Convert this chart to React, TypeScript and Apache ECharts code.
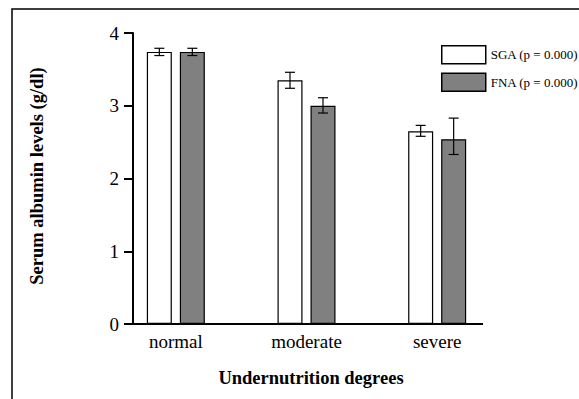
import React, { useEffect, useRef } from "react";
import * as echarts from "echarts";

const categories = ["normal", "moderate", "severe"];
const sgaValues = [3.74, 3.35, 2.65];
const fnaValues = [3.74, 3.0, 2.54];
const sgaErrLow = [3.69, 3.24, 2.58];
const sgaErrHigh = [3.79, 3.46, 2.73];
const fnaErrLow = [3.69, 2.9, 2.33];
const fnaErrHigh = [3.79, 3.11, 2.83];
const yTicks = [0, 1, 2, 3, 4];
const seriesNames = ["SGA (p = 0.000)", "FNA (p = 0.000)"];

const FONT = "'Liberation Serif', 'Times New Roman', serif";
const BAR_W = 25;
const BAR_GAP = 8;

function errSeries(low: number[], high: number[], offset: number) {
  return {
    type: "custom",
    silent: true,
    z: 5,
    encode: { x: 0, y: [1, 2] },
    data: categories.map((_, i) => [i, low[i], high[i]]),
    renderItem: (params: any, api: any) => {
      const lo = api.coord([api.value(0), api.value(1)]);
      const hi = api.coord([api.value(0), api.value(2)]);
      const x = lo[0] + offset;
      const cap = 5;
      const style = { stroke: "#000", lineWidth: 1.2 };
      return {
        type: "group",
        children: [
          { type: "line", shape: { x1: x, y1: lo[1], x2: x, y2: hi[1] }, style },
          { type: "line", shape: { x1: x - cap, y1: lo[1], x2: x + cap, y2: lo[1] }, style },
          { type: "line", shape: { x1: x - cap, y1: hi[1], x2: x + cap, y2: hi[1] }, style },
        ],
      };
    },
  };
}

export default function App() {
  const ref = useRef<HTMLDivElement>(null);
  useEffect(() => {
    if (!ref.current) return;
    const chart = echarts.init(ref.current, null, { renderer: "svg" });
    const off = BAR_GAP / 2 + BAR_W / 2;
    chart.setOption({
      animation: false,
      backgroundColor: "#fff",
      textStyle: { fontFamily: FONT, color: "#000" },
      grid: { left: 110.5, right: 76.5, top: 33, bottom: 75 },
      legend: {
        orient: "vertical",
        left: 436,
        top: 40,
        itemWidth: 44,
        itemHeight: 18,
        itemGap: 8,
        icon: "rect",
        selectedMode: false,
        data: seriesNames,
        itemStyle: { borderWidth: 1.5 },
        textStyle: { fontFamily: FONT, fontSize: 13, color: "#000" },
      },
      xAxis: {
        type: "category",
        data: categories,
        axisLine: { show: false },
        axisTick: { show: false },
        axisLabel: { fontFamily: FONT, fontSize: 19, color: "#000", margin: 8 },
        name: "Undernutrition degrees",
        nameLocation: "middle",
        nameGap: 44,
        nameTextStyle: { fontFamily: FONT, fontSize: 18.5, fontWeight: "bold", color: "#000", padding: [0, 0, 0, 9] },
      },
      yAxis: {
        type: "value",
        min: yTicks[0],
        max: yTicks[yTicks.length - 1],
        interval: 1,
        offset: -22.5,
        axisLine: { show: true, lineStyle: { color: "#000", width: 2 } },
        axisTick: { show: true, length: 9, lineStyle: { color: "#000", width: 2 } },
        axisLabel: { fontFamily: FONT, fontSize: 19, color: "#000", margin: 14 },
        splitLine: { show: false },
        name: "Serum albumin levels (g/dl)",
        nameLocation: "middle",
        nameGap: 87,
        nameTextStyle: { fontFamily: FONT, fontSize: 18.5, fontWeight: "bold", color: "#000", padding: [0, 0, 0, 5] },
      },
      graphic: [
        {
          type: "rect",
          shape: { x: 12, y: 9, width: 620, height: 430 },
          style: { fill: "none", stroke: "#000", lineWidth: 1.5 },
          silent: true,
          z: -1,
        },
        {
          type: "line",
          shape: { x1: 124, y1: 324, x2: 483, y2: 324 },
          style: { stroke: "#000", lineWidth: 2 },
          z: 10,
        },
      ],
      series: [
        {
          name: seriesNames[0],
          type: "bar",
          data: sgaValues,
          barWidth: BAR_W,
          barGap: (BAR_GAP / BAR_W) * 100 + "%",
          itemStyle: { color: "#ffffff", borderColor: "#000", borderWidth: 1.2 },
        },
        {
          name: seriesNames[1],
          type: "bar",
          data: fnaValues,
          barWidth: BAR_W,
          itemStyle: { color: "#808080", borderColor: "#000", borderWidth: 1.2 },
        },
        errSeries(sgaErrLow, sgaErrHigh, -off),
        errSeries(fnaErrLow, fnaErrHigh, off),
      ],
    });
    return () => chart.dispose();
  }, []);
  return (
    <div
      ref={ref}
      style={{ position: "absolute", left: 0, top: 0, width: 579, height: 399 }}
    />
  );
}
